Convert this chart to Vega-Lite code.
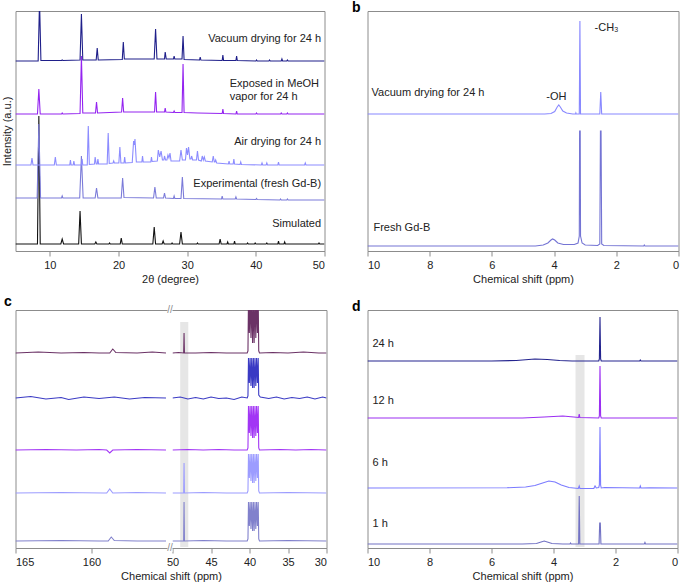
{
"$schema": "https://vega.github.io/schema/vega-lite/v6.json",
"padding": {"left": -10.5, "top": 0, "right": 3, "bottom": 2},
"background": "white",
"config": {
  "view": {"stroke": "#8c8c8c", "strokeWidth": 1},
  "font": "Liberation Sans",
  "axis": {"labelFont": "Liberation Sans", "labelFontSize": 11, "labelColor": "#222222", "titleFont": "Liberation Sans", "titleFontSize": 11, "titleFontWeight": "normal", "titleColor": "#222222", "domain": false, "grid": false, "tickColor": "#8c8c8c", "tickSize": 5, "labelPadding": 3, "titlePadding": 3},
  "title": {"fontSize": 14, "fontWeight": "bold", "anchor": "start", "font": "Liberation Sans", "color": "#000000"},
  "text": {"font": "Liberation Sans", "fontSize": 11, "color": "#222222"}
},
"datasets": {
  "xrd": [
    {"t":"S","x":5,"y":7},{"t":"S","x":8.2,"y":7},{"t":"S","x":8.4,"y":135},{"t":"S","x":8.6,"y":7},{"t":"S","x":11.6,"y":7},{"t":"S","x":11.8,"y":12},{"t":"S","x":12.0,"y":7},{"t":"S","x":14.2,"y":7},{"t":"S","x":14.4,"y":40},{"t":"S","x":14.6,"y":7},{"t":"S","x":16.55,"y":7},{"t":"S","x":16.7,"y":9},{"t":"S","x":16.85,"y":7},{"t":"S","x":18.6,"y":7},{"t":"S","x":18.7,"y":8},{"t":"S","x":18.8,"y":7},{"t":"S","x":20.25,"y":7},{"t":"S","x":20.4,"y":13},{"t":"S","x":20.55,"y":7},{"t":"S","x":25.0,"y":7},{"t":"S","x":25.2,"y":24},{"t":"S","x":25.4,"y":7},{"t":"S","x":26.35,"y":7},{"t":"S","x":26.5,"y":10},{"t":"S","x":26.65,"y":7},{"t":"S","x":27.7,"y":7},{"t":"S","x":27.8,"y":8},{"t":"S","x":27.9,"y":7},{"t":"S","x":28.9,"y":7},{"t":"S","x":29.1,"y":19},{"t":"S","x":29.3,"y":7},{"t":"S","x":31.4,"y":7},{"t":"S","x":31.5,"y":8},{"t":"S","x":31.6,"y":7},{"t":"S","x":34.65,"y":7},{"t":"S","x":34.8,"y":12},{"t":"S","x":34.95,"y":7},{"t":"S","x":35.8,"y":7},{"t":"S","x":35.9,"y":9},{"t":"S","x":36.0,"y":7},{"t":"S","x":36.8,"y":7},{"t":"S","x":36.9,"y":10},{"t":"S","x":37.0,"y":7},{"t":"S","x":38.7,"y":7},{"t":"S","x":38.8,"y":8},{"t":"S","x":38.9,"y":7},{"t":"S","x":39.8,"y":7},{"t":"S","x":39.9,"y":8},{"t":"S","x":40.0,"y":7},{"t":"S","x":41.5,"y":7},{"t":"S","x":41.6,"y":8},{"t":"S","x":41.7,"y":7},{"t":"S","x":43.2,"y":7},{"t":"S","x":43.3,"y":10},{"t":"S","x":43.4,"y":7},{"t":"S","x":44.1,"y":7},{"t":"S","x":44.2,"y":9},{"t":"S","x":44.3,"y":7},{"t":"S","x":49.1,"y":7},{"t":"S","x":49.2,"y":8},{"t":"S","x":49.3,"y":7},{"t":"S","x":50,"y":7},
    {"t":"E","x":5,"y":53},{"t":"E","x":8.15,"y":53},{"t":"E","x":8.4,"y":127},{"t":"E","x":8.65,"y":53},{"t":"E","x":11.7,"y":53},{"t":"E","x":11.8,"y":55},{"t":"E","x":11.9,"y":53},{"t":"E","x":14.35,"y":53},{"t":"E","x":14.6,"y":95},{"t":"E","x":14.85,"y":53},{"t":"E","x":16.6,"y":53},{"t":"E","x":16.8,"y":63},{"t":"E","x":17.0,"y":53},{"t":"E","x":20.4,"y":53},{"t":"E","x":20.6,"y":73},{"t":"E","x":20.8,"y":53.5},{"t":"E","x":25.1,"y":53},{"t":"E","x":25.3,"y":64},{"t":"E","x":25.5,"y":53},{"t":"E","x":26.55,"y":53},{"t":"E","x":26.7,"y":58},{"t":"E","x":26.85,"y":53},{"t":"E","x":28.0,"y":52.5},{"t":"E","x":28.1,"y":55},{"t":"E","x":28.2,"y":52.5},{"t":"E","x":29.1,"y":52.5},{"t":"E","x":29.3,"y":74},{"t":"E","x":29.5,"y":52.5},{"t":"E","x":35.0,"y":52},{"t":"E","x":35.1,"y":55},{"t":"E","x":35.2,"y":52},{"t":"E","x":37.0,"y":52},{"t":"E","x":37.1,"y":54},{"t":"E","x":37.2,"y":52},{"t":"E","x":40.0,"y":51.5},{"t":"E","x":40.1,"y":52.5},{"t":"E","x":40.2,"y":51.5},{"t":"E","x":43.5,"y":51},{"t":"E","x":43.6,"y":52},{"t":"E","x":43.7,"y":51},{"t":"E","x":44.5,"y":51},{"t":"E","x":44.6,"y":52},{"t":"E","x":44.7,"y":51},{"t":"E","x":50,"y":51},
    {"t":"A","x":5,"y":86},{"t":"A","x":7.25,"y":86},{"t":"A","x":7.4,"y":93},{"t":"A","x":7.55,"y":86},{"t":"A","x":10.65,"y":86},{"t":"A","x":10.8,"y":94},{"t":"A","x":10.95,"y":86},{"t":"A","x":12.9,"y":86},{"t":"A","x":13.0,"y":91},{"t":"A","x":13.1,"y":86},{"t":"A","x":13.4,"y":86},{"t":"A","x":13.5,"y":90},{"t":"A","x":13.6,"y":86},{"t":"A","x":14.6,"y":86},{"t":"A","x":14.7,"y":92},{"t":"A","x":14.8,"y":86},{"t":"A","x":15.45,"y":86},{"t":"A","x":15.6,"y":125},{"t":"A","x":15.75,"y":86.5},{"t":"A","x":16.5,"y":87},{"t":"A","x":16.6,"y":94},{"t":"A","x":16.75,"y":87},{"t":"A","x":16.9,"y":87},{"t":"A","x":17.0,"y":92},{"t":"A","x":17.1,"y":87},{"t":"A","x":18.35,"y":87},{"t":"A","x":18.5,"y":118},{"t":"A","x":18.65,"y":87.5},{"t":"A","x":19.2,"y":88},{"t":"A","x":19.3,"y":90},{"t":"A","x":19.4,"y":88},{"t":"A","x":20.05,"y":88},{"t":"A","x":20.2,"y":104},{"t":"A","x":20.35,"y":88},{"t":"A","x":20.8,"y":88},{"t":"A","x":20.9,"y":94},{"t":"A","x":21.0,"y":88},{"t":"A","x":22.0,"y":88.5},{"t":"A","x":22.2,"y":110},{"t":"A","x":22.3,"y":106},{"t":"A","x":22.4,"y":112},{"t":"A","x":22.6,"y":89},{"t":"A","x":23.4,"y":89},{"t":"A","x":23.5,"y":95},{"t":"A","x":23.6,"y":89},{"t":"A","x":24.7,"y":89},{"t":"A","x":24.8,"y":94},{"t":"A","x":24.9,"y":89.5},{"t":"A","x":25.65,"y":90},{"t":"A","x":25.8,"y":101},{"t":"A","x":26.0,"y":94},{"t":"A","x":26.2,"y":100},{"t":"A","x":26.4,"y":91},{"t":"A","x":26.6,"y":91},{"t":"A","x":26.7,"y":95},{"t":"A","x":26.85,"y":91},{"t":"A","x":27.05,"y":91},{"t":"A","x":27.2,"y":96},{"t":"A","x":27.35,"y":93},{"t":"A","x":27.5,"y":98},{"t":"A","x":27.65,"y":90},{"t":"A","x":28.9,"y":90},{"t":"A","x":29.1,"y":101},{"t":"A","x":29.3,"y":91},{"t":"A","x":29.75,"y":91},{"t":"A","x":29.9,"y":103},{"t":"A","x":30.05,"y":96},{"t":"A","x":30.2,"y":104},{"t":"A","x":30.4,"y":92},{"t":"A","x":30.55,"y":92},{"t":"A","x":30.65,"y":95},{"t":"A","x":30.8,"y":91},{"t":"A","x":31.35,"y":91},{"t":"A","x":31.5,"y":100},{"t":"A","x":31.65,"y":91},{"t":"A","x":32.05,"y":90},{"t":"A","x":32.2,"y":95},{"t":"A","x":32.35,"y":91},{"t":"A","x":32.5,"y":94},{"t":"A","x":32.65,"y":90},{"t":"A","x":33.65,"y":89},{"t":"A","x":33.8,"y":95},{"t":"A","x":33.95,"y":89},{"t":"A","x":34.05,"y":89},{"t":"A","x":34.15,"y":91},{"t":"A","x":34.3,"y":88},{"t":"A","x":36.0,"y":87},{"t":"A","x":36.1,"y":90},{"t":"A","x":36.2,"y":87},{"t":"A","x":36.7,"y":87},{"t":"A","x":36.8,"y":92},{"t":"A","x":36.9,"y":87},{"t":"A","x":37.7,"y":86.5},{"t":"A","x":37.8,"y":89},{"t":"A","x":37.9,"y":86.5},{"t":"A","x":40.8,"y":86},{"t":"A","x":40.9,"y":88},{"t":"A","x":41.0,"y":86},{"t":"A","x":41.5,"y":86},{"t":"A","x":41.6,"y":88},{"t":"A","x":41.7,"y":86},{"t":"A","x":43.2,"y":86},{"t":"A","x":43.3,"y":89},{"t":"A","x":43.4,"y":86},{"t":"A","x":47.1,"y":86},{"t":"A","x":47.2,"y":88},{"t":"A","x":47.3,"y":86},{"t":"A","x":50,"y":86},
    {"t":"M","x":5,"y":137},{"t":"M","x":8.2,"y":137},{"t":"M","x":8.4,"y":162},{"t":"M","x":8.6,"y":137},{"t":"M","x":11.7,"y":137},{"t":"M","x":11.8,"y":138},{"t":"M","x":11.9,"y":137},{"t":"M","x":14.4,"y":137.5},{"t":"M","x":14.6,"y":195},{"t":"M","x":14.8,"y":138},{"t":"M","x":16.65,"y":138},{"t":"M","x":16.8,"y":149},{"t":"M","x":16.95,"y":138},{"t":"M","x":20.45,"y":139},{"t":"M","x":20.6,"y":153},{"t":"M","x":20.75,"y":139},{"t":"M","x":25.25,"y":139},{"t":"M","x":25.4,"y":159},{"t":"M","x":25.55,"y":139},{"t":"M","x":26.7,"y":139},{"t":"M","x":26.8,"y":143},{"t":"M","x":26.9,"y":139},{"t":"M","x":28.0,"y":138.5},{"t":"M","x":28.1,"y":140},{"t":"M","x":28.2,"y":138.5},{"t":"M","x":29.25,"y":138.5},{"t":"M","x":29.4,"y":187},{"t":"M","x":29.55,"y":138.5},{"t":"M","x":31.5,"y":138},{"t":"M","x":35.1,"y":137.5},{"t":"M","x":35.2,"y":142},{"t":"M","x":35.3,"y":137.5},{"t":"M","x":37.1,"y":137},{"t":"M","x":37.2,"y":140},{"t":"M","x":37.3,"y":137},{"t":"M","x":40.0,"y":137},{"t":"M","x":40.1,"y":138},{"t":"M","x":40.2,"y":137},{"t":"M","x":43.6,"y":137},{"t":"M","x":43.7,"y":138},{"t":"M","x":43.8,"y":137},{"t":"M","x":44.5,"y":137},{"t":"M","x":44.6,"y":138},{"t":"M","x":44.7,"y":137},{"t":"M","x":50,"y":137},
    {"t":"V","x":5,"y":190},{"t":"V","x":8.3,"y":190},{"t":"V","x":8.5,"y":250},{"t":"V","x":8.7,"y":190.5},{"t":"V","x":11.7,"y":190.5},{"t":"V","x":11.8,"y":191},{"t":"V","x":11.9,"y":190.5},{"t":"V","x":14.4,"y":191},{"t":"V","x":14.6,"y":237},{"t":"V","x":14.8,"y":191},{"t":"V","x":16.75,"y":191},{"t":"V","x":16.9,"y":203},{"t":"V","x":17.05,"y":191},{"t":"V","x":20.55,"y":191.5},{"t":"V","x":20.7,"y":209},{"t":"V","x":20.85,"y":192},{"t":"V","x":25.2,"y":192},{"t":"V","x":25.4,"y":222},{"t":"V","x":25.6,"y":192},{"t":"V","x":26.7,"y":192},{"t":"V","x":26.8,"y":199},{"t":"V","x":26.95,"y":192},{"t":"V","x":28.0,"y":192},{"t":"V","x":28.1,"y":195},{"t":"V","x":28.2,"y":192},{"t":"V","x":29.25,"y":192},{"t":"V","x":29.4,"y":215},{"t":"V","x":29.55,"y":191.5},{"t":"V","x":31.8,"y":191},{"t":"V","x":31.9,"y":194},{"t":"V","x":32.0,"y":191},{"t":"V","x":35.1,"y":190.5},{"t":"V","x":35.2,"y":196},{"t":"V","x":35.3,"y":190.5},{"t":"V","x":37.1,"y":190.5},{"t":"V","x":37.2,"y":195},{"t":"V","x":37.3,"y":190.5},{"t":"V","x":40.0,"y":190},{"t":"V","x":40.1,"y":191},{"t":"V","x":40.2,"y":190},{"t":"V","x":41.9,"y":190},{"t":"V","x":42.0,"y":191},{"t":"V","x":42.1,"y":190},{"t":"V","x":43.7,"y":190},{"t":"V","x":43.8,"y":192},{"t":"V","x":43.9,"y":190},{"t":"V","x":44.5,"y":190},{"t":"V","x":44.6,"y":191},{"t":"V","x":44.7,"y":190},{"t":"V","x":50,"y":190}
  ],
  "alabR": [
    {"s":"Vacuum drying for 24 h","x":49.5,"y":212},
    {"s":"Air drying for 24 h","x":49.5,"y":109},
    {"s":"Experimental (fresh Gd-B)","x":49.5,"y":67},
    {"s":"Simulated","x":49.5,"y":27}
  ],
  "alabL": [
    {"s":"Exposed in MeOH","x":36.2,"y":167},
    {"s":"vapor for 24 h","x":36.2,"y":154}
  ],
  "nmr1": [
    {"t":"BV","x":10,"y":137},{"t":"BV","x":4.3,"y":137},{"t":"BV","x":4.1,"y":137.5},{"t":"BV","x":3.98,"y":139.5},{"t":"BV","x":3.9,"y":144},{"t":"BV","x":3.85,"y":146},{"t":"BV","x":3.8,"y":144},{"t":"BV","x":3.72,"y":140},{"t":"BV","x":3.6,"y":138},{"t":"BV","x":3.4,"y":137},{"t":"BV","x":3.31,"y":137},{"t":"BV","x":3.3,"y":138},{"t":"BV","x":3.29,"y":137},{"t":"BV","x":3.19,"y":137},{"t":"BV","x":3.17,"y":230},{"t":"BV","x":3.15,"y":137},{"t":"BV","x":2.53,"y":137},{"t":"BV","x":2.5,"y":159},{"t":"BV","x":2.47,"y":137},{"t":"BV","x":0,"y":137},
    {"t":"BF","x":10,"y":5},{"t":"BF","x":4.6,"y":5},{"t":"BF","x":4.35,"y":6},{"t":"BF","x":4.2,"y":8},{"t":"BF","x":4.1,"y":11},{"t":"BF","x":4.05,"y":12},{"t":"BF","x":3.98,"y":11},{"t":"BF","x":3.88,"y":8},{"t":"BF","x":3.7,"y":6.5},{"t":"BF","x":3.35,"y":6.5},{"t":"BF","x":3.23,"y":8},{"t":"BF","x":3.19,"y":15},{"t":"BF","x":3.18,"y":120},{"t":"BF","x":3.16,"y":120},{"t":"BF","x":3.15,"y":15},{"t":"BF","x":3.1,"y":8},{"t":"BF","x":3.0,"y":6},{"t":"BF","x":2.6,"y":5.5},{"t":"BF","x":2.53,"y":7},{"t":"BF","x":2.51,"y":120},{"t":"BF","x":2.49,"y":120},{"t":"BF","x":2.47,"y":7},{"t":"BF","x":2.4,"y":5.5},{"t":"BF","x":1.12,"y":5},{"t":"BF","x":1.1,"y":6},{"t":"BF","x":1.08,"y":5},{"t":"BF","x":0,"y":5}
  ],
  "blab": [
    {"s":"Vacuum drying for 24 h","x":9.87,"y":158},
    {"s":"-OH","x":4.25,"y":154},
    {"s":"-CH₃","x":2.7,"y":223},
    {"s":"Fresh Gd-B","x":9.81,"y":23}
  ],
  "c13": [
    {"t":"C1","g":"L","x":165,"y":195},{"t":"C1","g":"L","x":163.5,"y":196},{"t":"C1","g":"L","x":162,"y":195},{"t":"C1","g":"L","x":160.5,"y":195.5},{"t":"C1","g":"L","x":159.5,"y":195},{"t":"C1","g":"L","x":158.8,"y":195},{"t":"C1","g":"L","x":158.6,"y":199},{"t":"C1","g":"L","x":158.4,"y":195.5},{"t":"C1","g":"L","x":157,"y":195},{"t":"C1","g":"L","x":156,"y":196},{"t":"C1","g":"L","x":155.1,"y":195},
    {"t":"C1","g":"R","x":50,"y":195},{"t":"C1","g":"R","x":49.2,"y":195.5},{"t":"C1","g":"R","x":48.55,"y":195},{"t":"C1","g":"R","x":48.5,"y":215},{"t":"C1","g":"R","x":48.45,"y":195},{"t":"C1","g":"R","x":47,"y":195},{"t":"C1","g":"R","x":45,"y":195.5},{"t":"C1","g":"R","x":43,"y":195},{"t":"C1","g":"R","x":41,"y":195},{"t":"C1","g":"R","x":40.3,"y":195},{"t":"C1","g":"R","x":40.2,"y":197},{"t":"C1","g":"R","x":40.13,"y":250},{"t":"C1","g":"R","x":40.02,"y":215},{"t":"C1","g":"R","x":39.92,"y":250},{"t":"C1","g":"R","x":39.81,"y":210},{"t":"C1","g":"R","x":39.71,"y":250},{"t":"C1","g":"R","x":39.6,"y":205},{"t":"C1","g":"R","x":39.5,"y":250},{"t":"C1","g":"R","x":39.4,"y":205},{"t":"C1","g":"R","x":39.29,"y":250},{"t":"C1","g":"R","x":39.18,"y":210},{"t":"C1","g":"R","x":39.08,"y":250},{"t":"C1","g":"R","x":38.97,"y":215},{"t":"C1","g":"R","x":38.87,"y":250},{"t":"C1","g":"R","x":38.8,"y":197},{"t":"C1","g":"R","x":38.7,"y":195},{"t":"C1","g":"R","x":37,"y":195.5},{"t":"C1","g":"R","x":35,"y":195},{"t":"C1","g":"R","x":33,"y":196},{"t":"C1","g":"R","x":31,"y":195},{"t":"C1","g":"R","x":30,"y":195},
    {"t":"C2","g":"L","x":165,"y":150},{"t":"C2","g":"L","x":164,"y":151.5},{"t":"C2","g":"L","x":163,"y":149},{"t":"C2","g":"L","x":162,"y":150.5},{"t":"C2","g":"L","x":161.5,"y":148.5},{"t":"C2","g":"L","x":160.5,"y":151},{"t":"C2","g":"L","x":159.5,"y":149.5},{"t":"C2","g":"L","x":158.5,"y":151},{"t":"C2","g":"L","x":157.5,"y":149},{"t":"C2","g":"L","x":156.5,"y":150.5},{"t":"C2","g":"L","x":155.1,"y":150},
    {"t":"C2","g":"R","x":50,"y":150},{"t":"C2","g":"R","x":49,"y":151},{"t":"C2","g":"R","x":48,"y":149},{"t":"C2","g":"R","x":47,"y":150.5},{"t":"C2","g":"R","x":46,"y":149},{"t":"C2","g":"R","x":45,"y":151},{"t":"C2","g":"R","x":44,"y":149.5},{"t":"C2","g":"R","x":43,"y":150},{"t":"C2","g":"R","x":42,"y":148.5},{"t":"C2","g":"R","x":41,"y":151},{"t":"C2","g":"R","x":40.3,"y":150},{"t":"C2","g":"R","x":40.2,"y":152},{"t":"C2","g":"R","x":40.13,"y":190},{"t":"C2","g":"R","x":40.02,"y":165},{"t":"C2","g":"R","x":39.92,"y":190},{"t":"C2","g":"R","x":39.81,"y":162},{"t":"C2","g":"R","x":39.71,"y":190},{"t":"C2","g":"R","x":39.6,"y":160},{"t":"C2","g":"R","x":39.5,"y":190},{"t":"C2","g":"R","x":39.4,"y":160},{"t":"C2","g":"R","x":39.29,"y":190},{"t":"C2","g":"R","x":39.18,"y":162},{"t":"C2","g":"R","x":39.08,"y":190},{"t":"C2","g":"R","x":38.97,"y":165},{"t":"C2","g":"R","x":38.87,"y":190},{"t":"C2","g":"R","x":38.8,"y":153},{"t":"C2","g":"R","x":38.6,"y":151},{"t":"C2","g":"R","x":37.5,"y":149.5},{"t":"C2","g":"R","x":36.5,"y":151},{"t":"C2","g":"R","x":35.5,"y":149},{"t":"C2","g":"R","x":34.5,"y":150.5},{"t":"C2","g":"R","x":33.5,"y":149.5},{"t":"C2","g":"R","x":32.5,"y":151},{"t":"C2","g":"R","x":31.5,"y":149},{"t":"C2","g":"R","x":30.5,"y":151},{"t":"C2","g":"R","x":30,"y":150},
    {"t":"C3","g":"L","x":165,"y":98},{"t":"C3","g":"L","x":163,"y":98.5},{"t":"C3","g":"L","x":161,"y":98},{"t":"C3","g":"L","x":159.5,"y":98.5},{"t":"C3","g":"L","x":159,"y":98},{"t":"C3","g":"L","x":158.8,"y":95},{"t":"C3","g":"L","x":158.6,"y":98},{"t":"C3","g":"L","x":157,"y":98.5},{"t":"C3","g":"L","x":155.1,"y":98},
    {"t":"C3","g":"R","x":50,"y":98},{"t":"C3","g":"R","x":48,"y":98.5},{"t":"C3","g":"R","x":46,"y":98},{"t":"C3","g":"R","x":44,"y":98.5},{"t":"C3","g":"R","x":42,"y":98},{"t":"C3","g":"R","x":40.3,"y":98},{"t":"C3","g":"R","x":40.2,"y":100},{"t":"C3","g":"R","x":40.13,"y":142},{"t":"C3","g":"R","x":40.02,"y":115},{"t":"C3","g":"R","x":39.92,"y":142},{"t":"C3","g":"R","x":39.81,"y":112},{"t":"C3","g":"R","x":39.71,"y":142},{"t":"C3","g":"R","x":39.6,"y":110},{"t":"C3","g":"R","x":39.5,"y":142},{"t":"C3","g":"R","x":39.4,"y":110},{"t":"C3","g":"R","x":39.29,"y":142},{"t":"C3","g":"R","x":39.18,"y":112},{"t":"C3","g":"R","x":39.08,"y":142},{"t":"C3","g":"R","x":38.97,"y":115},{"t":"C3","g":"R","x":38.87,"y":142},{"t":"C3","g":"R","x":38.8,"y":100},{"t":"C3","g":"R","x":38.7,"y":98},{"t":"C3","g":"R","x":36,"y":98.5},{"t":"C3","g":"R","x":34,"y":98},{"t":"C3","g":"R","x":32,"y":98.5},{"t":"C3","g":"R","x":30,"y":98},
    {"t":"C4","g":"L","x":165,"y":55},{"t":"C4","g":"L","x":162,"y":55.5},{"t":"C4","g":"L","x":159.2,"y":55},{"t":"C4","g":"L","x":159,"y":55},{"t":"C4","g":"L","x":158.8,"y":59},{"t":"C4","g":"L","x":158.6,"y":55},{"t":"C4","g":"L","x":157,"y":55.5},{"t":"C4","g":"L","x":155.1,"y":55},
    {"t":"C4","g":"R","x":50,"y":55},{"t":"C4","g":"R","x":48.55,"y":55},{"t":"C4","g":"R","x":48.5,"y":85},{"t":"C4","g":"R","x":48.45,"y":55},{"t":"C4","g":"R","x":46,"y":55.5},{"t":"C4","g":"R","x":43,"y":55},{"t":"C4","g":"R","x":40.3,"y":55},{"t":"C4","g":"R","x":40.2,"y":57},{"t":"C4","g":"R","x":40.13,"y":94},{"t":"C4","g":"R","x":40.02,"y":70},{"t":"C4","g":"R","x":39.92,"y":94},{"t":"C4","g":"R","x":39.81,"y":67},{"t":"C4","g":"R","x":39.71,"y":94},{"t":"C4","g":"R","x":39.6,"y":65},{"t":"C4","g":"R","x":39.5,"y":94},{"t":"C4","g":"R","x":39.4,"y":65},{"t":"C4","g":"R","x":39.29,"y":94},{"t":"C4","g":"R","x":39.18,"y":67},{"t":"C4","g":"R","x":39.08,"y":94},{"t":"C4","g":"R","x":38.97,"y":70},{"t":"C4","g":"R","x":38.87,"y":94},{"t":"C4","g":"R","x":38.8,"y":57},{"t":"C4","g":"R","x":38.7,"y":55},{"t":"C4","g":"R","x":35,"y":55.5},{"t":"C4","g":"R","x":30,"y":55},
    {"t":"C5","g":"L","x":165,"y":7},{"t":"C5","g":"L","x":162,"y":7.5},{"t":"C5","g":"L","x":159.5,"y":7},{"t":"C5","g":"L","x":158.9,"y":7},{"t":"C5","g":"L","x":158.7,"y":11},{"t":"C5","g":"L","x":158.5,"y":7.5},{"t":"C5","g":"L","x":157,"y":7},{"t":"C5","g":"L","x":155.1,"y":7},
    {"t":"C5","g":"R","x":50,"y":7},{"t":"C5","g":"R","x":48.55,"y":7},{"t":"C5","g":"R","x":48.5,"y":46},{"t":"C5","g":"R","x":48.45,"y":7},{"t":"C5","g":"R","x":46,"y":7.5},{"t":"C5","g":"R","x":43,"y":7},{"t":"C5","g":"R","x":40.3,"y":7},{"t":"C5","g":"R","x":40.2,"y":9},{"t":"C5","g":"R","x":40.13,"y":46},{"t":"C5","g":"R","x":40.02,"y":22},{"t":"C5","g":"R","x":39.92,"y":46},{"t":"C5","g":"R","x":39.81,"y":19},{"t":"C5","g":"R","x":39.71,"y":46},{"t":"C5","g":"R","x":39.6,"y":17},{"t":"C5","g":"R","x":39.5,"y":46},{"t":"C5","g":"R","x":39.4,"y":17},{"t":"C5","g":"R","x":39.29,"y":46},{"t":"C5","g":"R","x":39.18,"y":19},{"t":"C5","g":"R","x":39.08,"y":46},{"t":"C5","g":"R","x":38.97,"y":22},{"t":"C5","g":"R","x":38.87,"y":46},{"t":"C5","g":"R","x":38.8,"y":9},{"t":"C5","g":"R","x":38.7,"y":7},{"t":"C5","g":"R","x":35,"y":7.5},{"t":"C5","g":"R","x":30,"y":7}
  ],
  "bandc": [{"x":49.0,"x2":47.95,"y":226,"y2":1}],
  "gapc": [{"x":155,"x2":50,"y":-4,"y2":242}],
  "brkc": [{"x":102.5,"y":0},{"x":102.5,"y":238}],
  "nmr2": [
    {"t":"D24","x":10,"y":187},{"t":"D24","x":6,"y":187},{"t":"D24","x":5.2,"y":187.5},{"t":"D24","x":4.6,"y":189},{"t":"D24","x":4.2,"y":188.5},{"t":"D24","x":3.8,"y":187.5},{"t":"D24","x":3.4,"y":187},{"t":"D24","x":2.54,"y":187},{"t":"D24","x":2.52,"y":189},{"t":"D24","x":2.5,"y":231},{"t":"D24","x":2.48,"y":189},{"t":"D24","x":2.46,"y":187},{"t":"D24","x":1.22,"y":187},{"t":"D24","x":1.2,"y":188},{"t":"D24","x":1.18,"y":187},{"t":"D24","x":0,"y":187},
    {"t":"D12","x":10,"y":130},{"t":"D12","x":5,"y":130},{"t":"D12","x":4.3,"y":131},{"t":"D12","x":3.7,"y":132},{"t":"D12","x":3.35,"y":131},{"t":"D12","x":3.19,"y":130.5},{"t":"D12","x":3.17,"y":134},{"t":"D12","x":3.15,"y":130.5},{"t":"D12","x":2.54,"y":130},{"t":"D12","x":2.52,"y":132},{"t":"D12","x":2.5,"y":182},{"t":"D12","x":2.48,"y":132},{"t":"D12","x":2.46,"y":130},{"t":"D12","x":0,"y":130},
    {"t":"D6","x":10,"y":60},{"t":"D6","x":5.5,"y":60.2},{"t":"D6","x":4.9,"y":61},{"t":"D6","x":4.6,"y":62.5},{"t":"D6","x":4.35,"y":65},{"t":"D6","x":4.15,"y":67},{"t":"D6","x":3.95,"y":66},{"t":"D6","x":3.75,"y":63},{"t":"D6","x":3.5,"y":60.5},{"t":"D6","x":3.2,"y":59.5},{"t":"D6","x":3.17,"y":62},{"t":"D6","x":3.15,"y":59.5},{"t":"D6","x":2.7,"y":59.5},{"t":"D6","x":2.66,"y":62},{"t":"D6","x":2.62,"y":60},{"t":"D6","x":2.54,"y":60.5},{"t":"D6","x":2.52,"y":63},{"t":"D6","x":2.5,"y":121},{"t":"D6","x":2.48,"y":63},{"t":"D6","x":2.46,"y":60},{"t":"D6","x":2.35,"y":60.5},{"t":"D6","x":1.22,"y":60},{"t":"D6","x":1.2,"y":62},{"t":"D6","x":1.18,"y":60},{"t":"D6","x":0.9,"y":60.2},{"t":"D6","x":0,"y":60},
    {"t":"D1","x":10,"y":4},{"t":"D1","x":5,"y":4},{"t":"D1","x":4.55,"y":4.5},{"t":"D1","x":4.4,"y":6},{"t":"D1","x":4.3,"y":7},{"t":"D1","x":4.2,"y":6},{"t":"D1","x":4.05,"y":4.5},{"t":"D1","x":3.7,"y":4},{"t":"D1","x":3.47,"y":4},{"t":"D1","x":3.45,"y":5},{"t":"D1","x":3.43,"y":4},{"t":"D1","x":3.19,"y":4},{"t":"D1","x":3.17,"y":52},{"t":"D1","x":3.15,"y":4},{"t":"D1","x":2.53,"y":4},{"t":"D1","x":2.51,"y":25},{"t":"D1","x":2.49,"y":25},{"t":"D1","x":2.47,"y":4},{"t":"D1","x":1.07,"y":4},{"t":"D1","x":1.05,"y":5.5},{"t":"D1","x":1.03,"y":4},{"t":"D1","x":0,"y":4}
  ],
  "bandd": [{"x":3.29,"x2":3.0,"y":193,"y2":1}],
  "dlab": [
    {"s":"24 h","x":9.84,"y":204},
    {"s":"12 h","x":9.84,"y":147},
    {"s":"6 h","x":9.84,"y":85},
    {"s":"1 h","x":9.84,"y":24}
  ]
},
"columns": 2,
"spacing": {"row": 10, "column": 24},
"resolve": {"scale": {"color": "independent"}},
"concat": [
  {
    "width": 309, "height": 240,
    "title": {"text": "a", "dx": -11, "offset": -4},
    "layer": [
      {"data": {"name": "xrd"}, "mark": {"type": "line", "strokeWidth": 1.1, "clip": true},
       "encoding": {
         "x": {"field": "x", "type": "quantitative", "scale": {"domain": [5, 50], "nice": false, "zero": false}, "axis": {"values": [10, 20, 30, 40, 50], "title": "2θ (degree)"}},
         "y": {"field": "y", "type": "quantitative", "scale": {"domain": [0, 240], "nice": false, "zero": false}, "axis": {"title": "Intensity (a.u.)", "labels": false, "ticks": false, "titleX": -8, "titleY": 120, "titleAngle": 270, "titleAlign": "center", "titleBaseline": "middle"}},
         "color": {"field": "t", "type": "nominal", "scale": {"domain": ["E", "S", "A", "M", "V"], "range": ["#7b7bd9", "#111111", "#8c8cff", "#9424f0", "#1f1f8a"]}, "legend": null}
       }},
      {"data": {"name": "alabR"}, "mark": {"type": "text", "align": "right", "baseline": "middle"},
       "encoding": {"x": {"field": "x", "type": "quantitative"}, "y": {"field": "y", "type": "quantitative"}, "text": {"field": "s"}}},
      {"data": {"name": "alabL"}, "mark": {"type": "text", "align": "left", "baseline": "middle"},
       "encoding": {"x": {"field": "x", "type": "quantitative"}, "y": {"field": "y", "type": "quantitative"}, "text": {"field": "s"}}}
    ]
  },
  {
    "width": 311, "height": 240,
    "title": {"text": "b", "dx": -15, "offset": -4},
    "layer": [
      {"data": {"name": "nmr1"}, "mark": {"type": "line", "strokeWidth": 1.1, "clip": true},
       "encoding": {
         "x": {"field": "x", "type": "quantitative", "scale": {"domain": [0, 10], "reverse": true, "nice": false, "zero": false}, "axis": {"values": [0, 2, 4, 6, 8, 10], "title": "Chemical shift (ppm)"}},
         "y": {"field": "y", "type": "quantitative", "scale": {"domain": [0, 240], "nice": false, "zero": false}, "axis": null},
         "color": {"field": "t", "type": "nominal", "scale": {"domain": ["BV", "BF"], "range": ["#8888ff", "#7474d4"]}, "legend": null}
       }},
      {"data": {"name": "blab"}, "mark": {"type": "text", "align": "left", "baseline": "middle"},
       "encoding": {"x": {"field": "x", "type": "quantitative"}, "y": {"field": "y", "type": "quantitative"}, "text": {"field": "s"}}}
    ]
  },
  {
    "width": 311, "height": 238,
    "title": {"text": "c", "dx": -11, "offset": -4},
    "view": {"stroke": null},
    "layer": [
      {"data": {"name": "bandc"}, "mark": {"type": "rect", "color": "#e6e6e6"},
       "encoding": {
         "x": {"field": "x", "type": "quantitative", "scale": {"domain": [165, 155, 50, 30], "range": [0, 152, 157, 311], "nice": false, "zero": false}, "axis": {"orient": "top", "labels": false, "ticks": false, "domain": true, "domainColor": "#8c8c8c", "title": null}},
         "x2": {"field": "x2"},
         "y": {"field": "y", "type": "quantitative", "scale": {"domain": [0, 238], "nice": false, "zero": false}, "axis": {"orient": "right", "labels": false, "ticks": false, "domain": true, "domainColor": "#8c8c8c", "title": null}},
         "y2": {"field": "y2"}
       }},
      {"data": {"name": "c13"}, "mark": {"type": "line", "strokeWidth": 1.1, "clip": true},
       "encoding": {
         "x": {"field": "x", "type": "quantitative", "axis": {"values": [165, 160, 50, 45, 40, 35, 30], "title": "Chemical shift (ppm)", "domain": true, "domainColor": "#8c8c8c"}},
         "y": {"field": "y", "type": "quantitative", "axis": {"orient": "left", "labels": false, "ticks": false, "domain": true, "domainColor": "#8c8c8c", "title": null}},
         "detail": {"field": "g"},
         "color": {"field": "t", "type": "nominal", "scale": {"domain": ["C1", "C2", "C3", "C4", "C5"], "range": ["#6b3266", "#3a3ac4", "#a236f5", "#9c9cff", "#8181cc"]}, "legend": null}
       }},
      {"data": {"name": "gapc"}, "mark": {"type": "rect", "color": "white"},
       "encoding": {
         "x": {"field": "x", "type": "quantitative", "axis": null}, "x2": {"field": "x2"},
         "y": {"field": "y", "type": "quantitative", "axis": null}, "y2": {"field": "y2"}
       }},
      {"data": {"name": "brkc"}, "mark": {"type": "text", "text": "//", "fontSize": 10, "color": "#8c8c8c", "baseline": "middle", "align": "center"},
       "encoding": {
         "x": {"field": "x", "type": "quantitative", "axis": null},
         "y": {"field": "y", "type": "quantitative", "axis": null}
       }}
    ],
    "resolve": {"axis": {"x": "independent", "y": "independent"}}
  },
  {
    "width": 310, "height": 238,
    "title": {"text": "d", "dx": -15, "offset": -4},
    "layer": [
      {"data": {"name": "bandd"}, "mark": {"type": "rect", "color": "#e6e6e6"},
       "encoding": {
         "x": {"field": "x", "type": "quantitative", "scale": {"domain": [0, 10], "reverse": true, "nice": false, "zero": false}, "axis": {"values": [0, 2, 4, 6, 8, 10], "title": "Chemical shift (ppm)"}},
         "x2": {"field": "x2"},
         "y": {"field": "y", "type": "quantitative", "scale": {"domain": [0, 238], "nice": false, "zero": false}, "axis": null},
         "y2": {"field": "y2"}
       }},
      {"data": {"name": "nmr2"}, "mark": {"type": "line", "strokeWidth": 1.1, "clip": true},
       "encoding": {
         "x": {"field": "x", "type": "quantitative"},
         "y": {"field": "y", "type": "quantitative"},
         "color": {"field": "t", "type": "nominal", "scale": {"domain": ["D24", "D12", "D6", "D1"], "range": ["#24248f", "#9b2ef2", "#7b7bff", "#7272c4"]}, "legend": null}
       }},
      {"data": {"name": "dlab"}, "mark": {"type": "text", "align": "left", "baseline": "middle"},
       "encoding": {"x": {"field": "x", "type": "quantitative"}, "y": {"field": "y", "type": "quantitative"}, "text": {"field": "s"}}}
    ]
  }
]
}
